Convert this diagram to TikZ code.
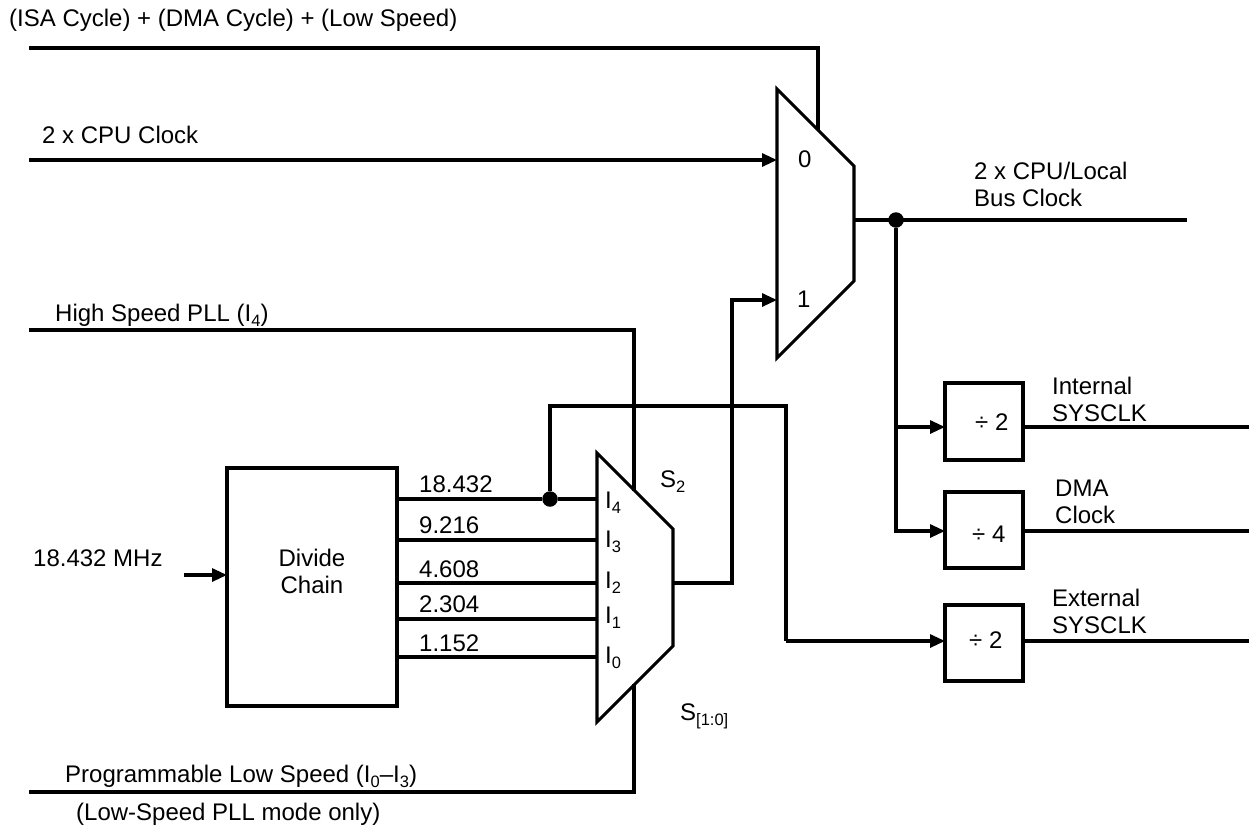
\documentclass[tikz,border=0pt]{standalone}
\usepackage{fontspec}
\setmainfont{Liberation Sans}
\usetikzlibrary{arrows.meta}
\tikzset{
  wire/.style={line width=3.1pt,line join=miter},
  arrowwire/.style={wire,-{Triangle[length=15pt,width=13pt]}},
  blockbox/.style={draw,line width=3.1pt,inner sep=0pt,outer sep=0pt,minimum width=78pt,minimum height=77pt,anchor=north west},
  lab/.style={anchor=base west,inner sep=0pt,align=left},
  dotnode/.style={circle,fill=black,inner sep=0pt,minimum size=15.5pt},
}
\newcommand{\fs}{\fontsize{24}{26.5}\selectfont}
\newcommand{\sbs}[1]{\raisebox{-5.5pt}{\fontsize{16.5}{18}\selectfont #1}}
\begin{document}
\begin{tikzpicture}[x=1pt,y=-1pt,every node/.append style={font=\fs}]
\useasboundingbox (0,0) rectangle (1249,828);
% multiplexers
\coordinate (ma) at (777,89); \coordinate (mb) at (854,166); \coordinate (mc) at (854,281); \coordinate (md) at (777,358);
\coordinate (sa) at (597,453); \coordinate (sb) at (673,529); \coordinate (sc) at (673,646); \coordinate (sd) at (597,722);
\draw[wire] (ma) -- (mb) -- (mc) -- (md) -- cycle;
\draw[wire] (sa) -- (sb) -- (sc) -- (sd) -- cycle;
% boxes
\node[blockbox,minimum width=170pt,minimum height=238pt] (chain) at (227,468) {};
\node[blockbox] (d1) at (945,383) {};
\node[blockbox,minimum height=76pt] (d2) at (945,492) {};
\node[blockbox,minimum height=76pt] (d3) at (945,605) {};
% junctions
\node[dotnode] (j1) at (896,220) {};
\node[dotnode] (j2) at (550,499) {};
% free ends
\coordinate (t0) at (29,48); \coordinate (t1) at (818,48); \coordinate (t2) at (818,130);
\coordinate (c0) at (29,160); \coordinate (c1) at (777,160);
\coordinate (h0) at (29,330); \coordinate (h1) at (634,330); \coordinate (h2) at (634,491);
\coordinate (p0) at (29,792); \coordinate (p1) at (634,792); \coordinate (p2) at (634,684);
\coordinate (f0) at (184,575); \coordinate (f1) at (227,575);
\coordinate (o0) at (673,583); \coordinate (o1) at (732,583); \coordinate (o2) at (732,300); \coordinate (o3) at (777,300);
\coordinate (b0) at (854,220); \coordinate (b1) at (1187,220);
\coordinate (k1) at (896,427); \coordinate (k2) at (896,531);
\coordinate (u1) at (550,406); \coordinate (u2) at (786,406); \coordinate (u3) at (786,641);
% connectors
\draw[wire] (t0) -- (t1) -- (t2);
\draw[arrowwire] (c0) -- (c1);
\draw[wire] (h0) -- (h1) -- (h2);
\draw[wire] (p0) -- (p1) -- (p2);
\draw[arrowwire] (f0) -- (f1);
\draw[arrowwire] (o0) -- (o1) -- (o2) -- (o3);
\draw[wire] (b0) -- (b1);
\draw[wire] (j1) -- (k1);
\draw[arrowwire] (k1) -- (945,427);
\draw[arrowwire] (k1) -- (k2) -- (945,531);
\draw[wire] (j2) -- (u1) -- (u2) -- (u3);
\draw[arrowwire] (u3) -- (945,641);
\draw[wire] (397,499) -- (j2) -- (597,499);
\draw[wire] (397,540) -- (597,540);
\draw[wire] (397,583) -- (597,583);
\draw[wire] (397,619) -- (597,619);
\draw[wire] (397,657) -- (597,657);
\draw[wire] (1023,427) -- (1249,427);
\draw[wire] (1023,531) -- (1249,531);
\draw[wire] (1023,641) -- (1249,641);
% labels
\node[lab] (l1) at (9,26) {(ISA Cycle) + (DMA Cycle) + (Low Speed)};
\node[lab] (l2) at (42,143) {2 x CPU Clock};
\node[lab] (l3) at (55,321) {High Speed PLL (I\sbs{4})};
\node[lab] (l4) at (33,566) {18.432 MHz};
\node[lab,align=center,anchor=base] (l7) at (312,593) {Divide\\Chain};
\node[lab] (l5) at (65,782) {Programmable Low Speed (I\sbs{0}–I\sbs{3})};
\node[lab] (l6) at (76,820) {(Low-Speed PLL mode only)};
\node[lab] (n1) at (419,492) {18.432};
\node[lab] (n2) at (419,533) {9.216};
\node[lab] (n3) at (419,577) {4.608};
\node[lab] (n4) at (419,612) {2.304};
\node[lab] (n5) at (419,651) {1.152};
\node[lab] (i4) at (605,508) {I\sbs{4}};
\node[lab] (i3) at (605,547) {I\sbs{3}};
\node[lab] (i2) at (605,588) {I\sbs{2}};
\node[lab] (i1) at (605,623) {I\sbs{1}};
\node[lab] (i0) at (605,663) {I\sbs{0}};
\node[lab] (s2) at (660,487) {S\sbs{2}};
\node[lab] (s1) at (680,720) {S\sbs{[1:0]}};
\node[lab] (m0) at (798,167) {0};
\node[lab] (m1) at (797,307) {1};
\node[lab] (bl) at (974,206) {2 x CPU/Local\\Bus Clock};
\node[lab] (dv1) at (975,430) {÷ 2};
\node[lab] (dv2) at (972,542) {÷ 4};
\node[lab] (dv3) at (969,648) {÷ 2};
\node[lab] (e1) at (1052,421) {Internal\\SYSCLK};
\node[lab] (e2) at (1055,523) {DMA\\Clock};
\node[lab] (e3) at (1052,633) {External\\SYSCLK};
\end{tikzpicture}
\end{document}
